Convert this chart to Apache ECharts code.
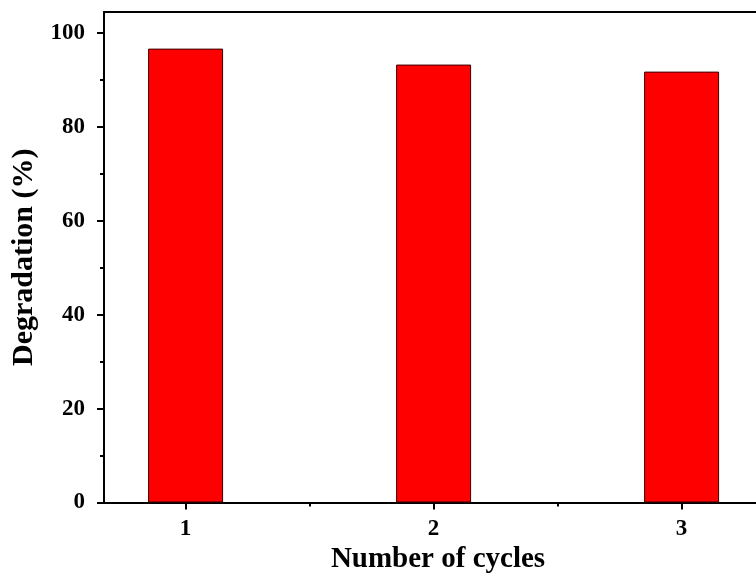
<!DOCTYPE html>
<html>
<head>
<meta charset="utf-8">
<script src="https://cdn.jsdelivr.net/npm/echarts@6/dist/echarts.min.js"></script>
<style>
  html, body { margin: 0; padding: 0; background: #fff; }
  #chart { width: 756px; height: 576px; }
</style>
</head>
<body>
<div id="chart"></div>
<script>
// Photocatalytic degradation efficiency over repeated cycles
const cycles = [1, 2, 3];
const degradation = [96.7, 93.3, 91.8];
const yMajorTicks = [0, 20, 40, 60, 80, 100];
const yMinorTicks = [10, 30, 50, 70, 90];
const xMinorTicks = [1.5, 2.5];

const font = 'Liberation Serif, Times New Roman, serif';
const X_MIN = 0.671, X_MAX = 3.3;
const Y_MIN = 0, Y_MAX = 104.5;

const chart = echarts.init(document.getElementById('chart'), null, { renderer: 'canvas' });

const hiddenSplit = { show: false };
const axisLineStyle = { color: '#000', width: 2 };

chart.setOption({
  animation: false,
  backgroundColor: '#ffffff',
  grid: { left: 104, right: 0, top: 12, bottom: 73.5, show: false, outerBoundsMode: 'none', containLabel: false },
  xAxis: [
    {
      type: 'value', min: X_MIN, max: X_MAX,
      name: 'Number of cycles', nameLocation: 'middle', nameGap: 36,
      nameTextStyle: { fontFamily: font, fontWeight: 'bold', fontSize: 29, color: '#000', padding: [0, 0, 0, 16] },
      axisLine: { show: true, onZero: false, lineStyle: axisLineStyle },
      axisTick: { show: true, inside: false, length: 7, lineStyle: axisLineStyle, customValues: cycles },
      axisLabel: { show: true, margin: 15, fontFamily: font, fontWeight: 'bold', fontSize: 23, color: '#000', customValues: cycles },
      splitLine: hiddenSplit
    },
    {
      // minor ticks between cycles
      type: 'value', min: X_MIN, max: X_MAX, position: 'bottom',
      axisLine: { show: false },
      axisTick: { show: true, inside: false, length: 4, lineStyle: axisLineStyle, customValues: xMinorTicks },
      axisLabel: { show: false },
      splitLine: hiddenSplit
    },
    {
      // top frame line
      type: 'value', min: X_MIN, max: X_MAX, position: 'top',
      axisLine: { show: true, onZero: false, lineStyle: axisLineStyle },
      axisTick: { show: false },
      axisLabel: { show: false },
      splitLine: hiddenSplit
    }
  ],
  yAxis: [
    {
      type: 'value', min: Y_MIN, max: Y_MAX,
      name: 'Degradation (%)', nameLocation: 'middle', nameGap: 64,
      nameTextStyle: { fontFamily: font, fontWeight: 'bold', fontSize: 30, color: '#000' },
      axisLine: { show: true, onZero: false, lineStyle: axisLineStyle },
      axisTick: { show: true, inside: false, length: 7, lineStyle: axisLineStyle, customValues: yMajorTicks },
      axisLabel: { show: true, margin: 19, fontFamily: font, fontWeight: 'bold', fontSize: 23, color: '#000', customValues: yMajorTicks },
      splitLine: hiddenSplit
    },
    {
      // minor ticks between labelled values
      type: 'value', min: Y_MIN, max: Y_MAX, position: 'left',
      axisLine: { show: false },
      axisTick: { show: true, inside: false, length: 4, lineStyle: axisLineStyle, customValues: yMinorTicks },
      axisLabel: { show: false },
      splitLine: hiddenSplit
    }
  ],
  series: [
    {
      type: 'bar',
      xAxisIndex: 0, yAxisIndex: 0,
      barWidth: 75,
      data: cycles.map((c, i) => [c, degradation[i]]),
      itemStyle: { color: '#ff0000', borderColor: '#3a0000', borderWidth: 1 }
    }
  ]
});
</script>
</body>
</html>
